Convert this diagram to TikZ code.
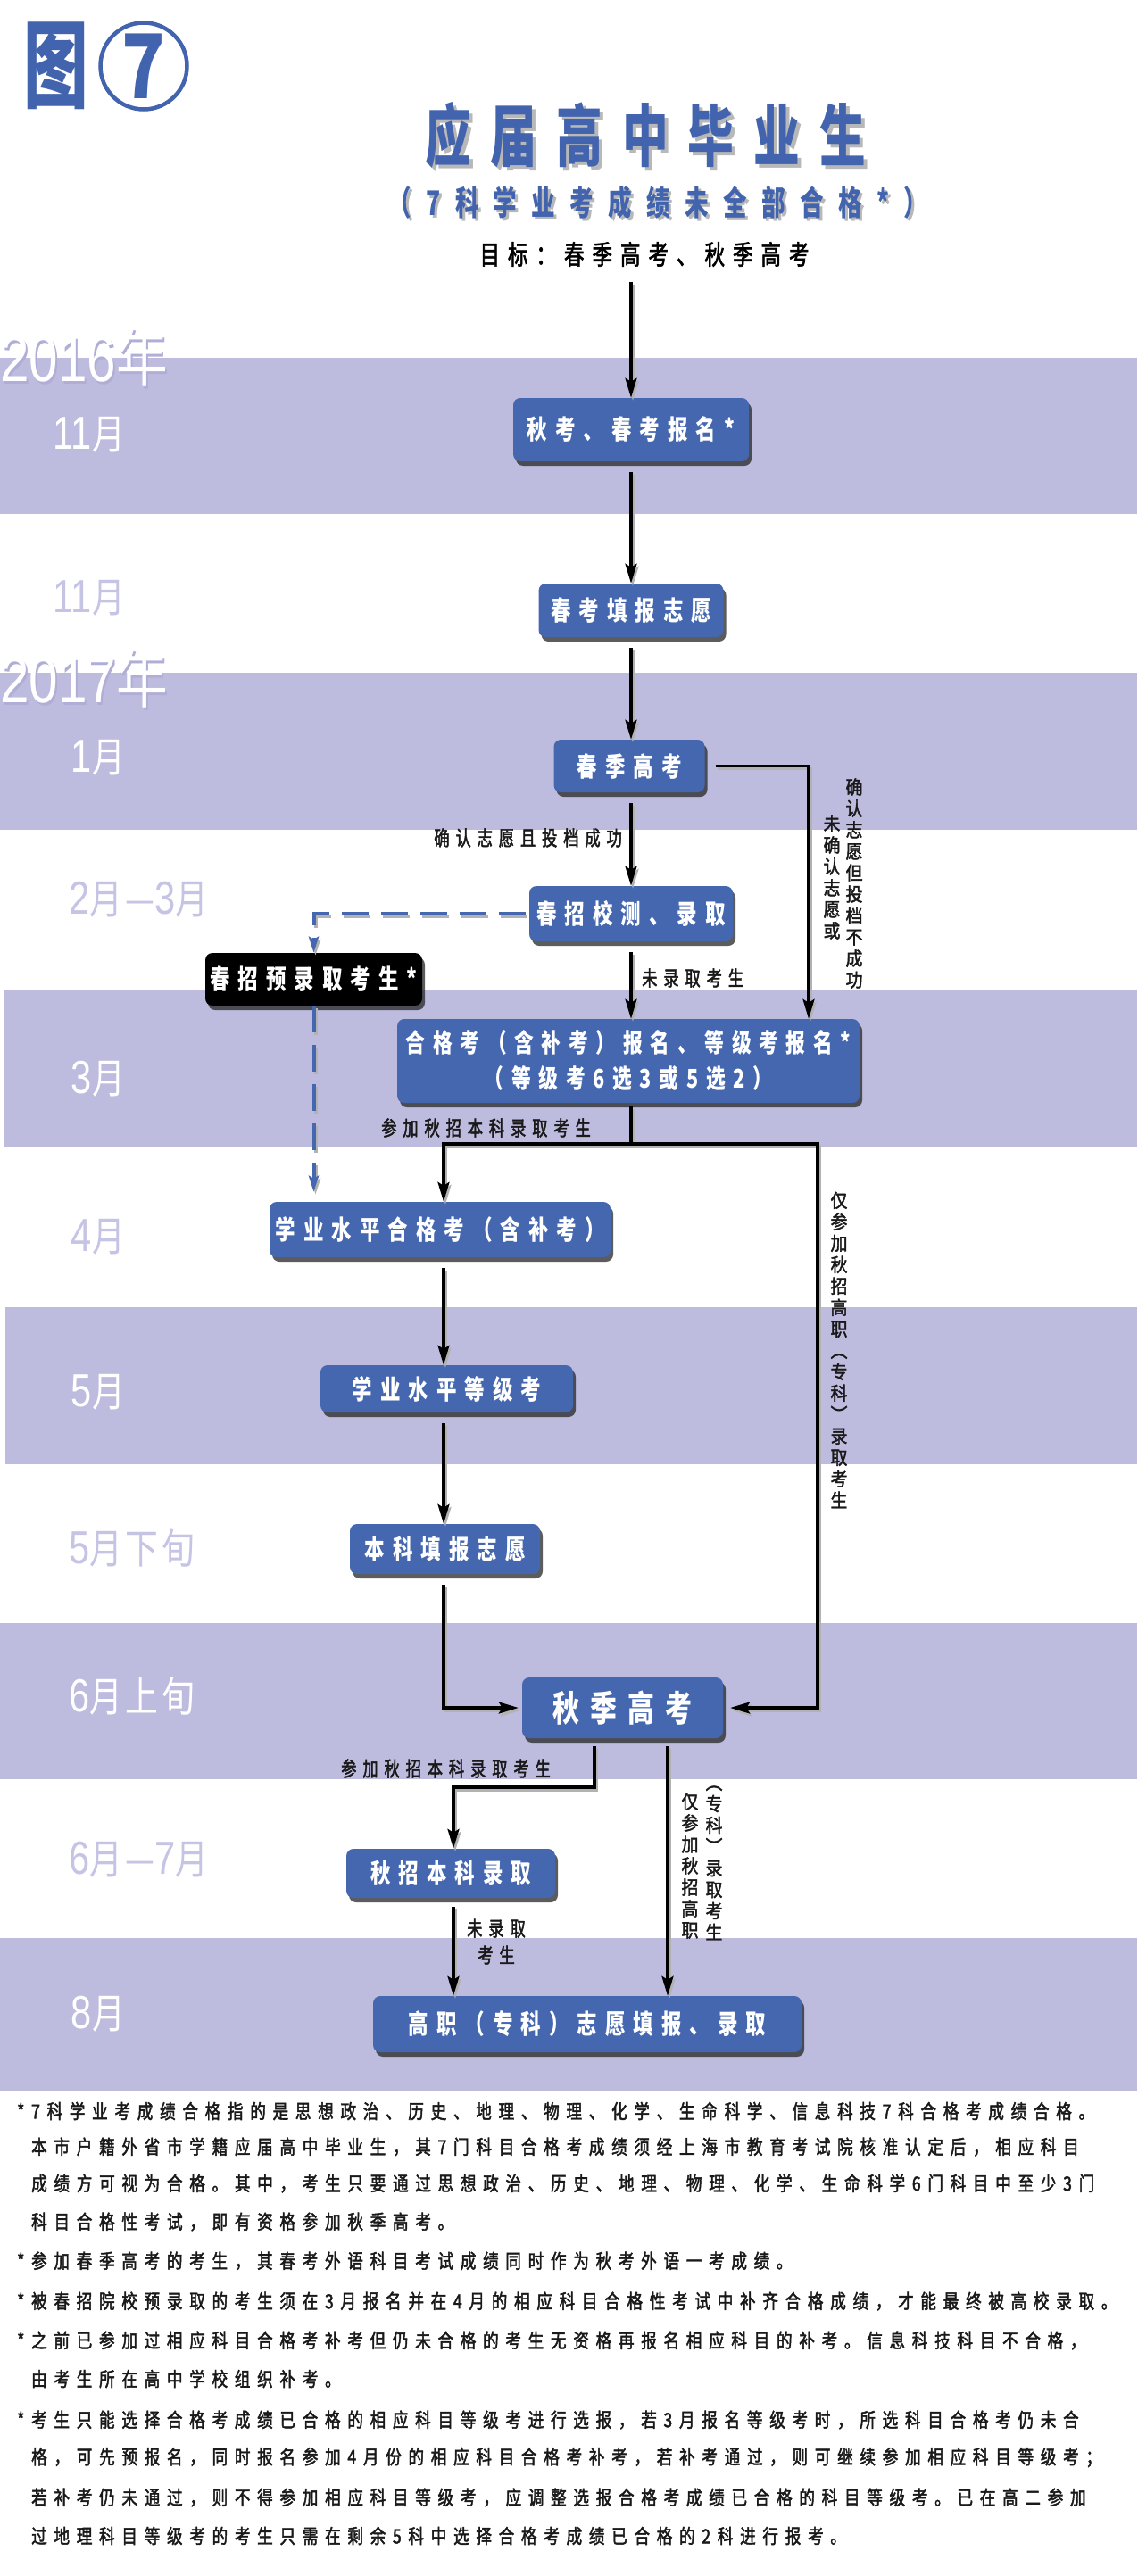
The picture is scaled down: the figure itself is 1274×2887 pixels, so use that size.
\documentclass[tikz,border=0pt]{standalone}
\usepackage{fontspec}
\usetikzlibrary{arrows.meta,shadows}
\newfontfamily\fbx[FakeStretch=0.75,LetterSpace=30]{Noto Sans CJK SC}
\newfontfamily\flb[FakeStretch=0.75,LetterSpace=30,FakeBold=2]{Noto Sans CJK SC}
\newfontfamily\fnt[FakeStretch=0.8,LetterSpace=35,FakeBold=2]{Noto Sans CJK SC}
\newfontfamily\fttl[FakeStretch=0.68,LetterSpace=29]{Noto Sans CJK SC}
\newfontfamily\fsub[FakeStretch=0.7,LetterSpace=43]{Noto Sans CJK SC}
\newfontfamily\fmon[FakeStretch=0.8,LetterSpace=8]{Noto Sans CJK SC}
\newfontfamily\fvert[FakeStretch=0.9,FakeBold=2]{Noto Sans CJK SC}
\newfontfamily\fdig[FakeStretch=0.8]{Liberation Sans}
\newcommand\dg[1]{{\fdig\fontsize{52}{52}\selectfont #1}}
\newcommand\yr[1]{{\fdig\fontsize{73}{73}\selectfont #1}}
\definecolor{band}{RGB}{189,187,222}
\definecolor{boxblue}{RGB}{68,103,176}
\definecolor{ttlblue}{RGB}{66,99,174}
\definecolor{lav}{RGB}{198,196,228}
\definecolor{lavdark}{RGB}{176,174,214}
\begin{document}
\begin{tikzpicture}[x=1pt,y=-1pt,
  box/.style={fill=boxblue, rounded corners=8pt, text=white, inner sep=0pt,
    font=\fbx\bfseries\fontsize{30}{30}\selectfont,
    drop shadow={shadow xshift=3pt,shadow yshift=-5pt,opacity=0.75,fill=black!85}},
  blackbox/.style={box, fill=black},
  conn/.style={line width=3.2pt, draw=black, -{Stealth[length=22pt,width=13pt,inset=4pt]},
    preaction={draw=black!30, line width=3.2pt, transform canvas={shift={(2pt,-3pt)}}}},
  plain/.style={line width=3.2pt, draw=black,
    preaction={draw=black!30, line width=3.2pt, transform canvas={shift={(2pt,-3pt)}}}},
  dconn/.style={line width=4pt, draw=boxblue, dash pattern=on 30pt off 14pt,
    -{Stealth[length=18pt,width=11pt,inset=3pt]},
    preaction={draw=black!30, line width=4pt, dash pattern=on 30pt off 14pt, transform canvas={shift={(2pt,-3pt)}}}},
  lbl/.style={inner sep=0pt, text=black!90, font=\flb\fontsize{23}{23}\selectfont},
  vlbl/.style={inner sep=0pt, text=black!90, align=center, font=\fvert\fontsize{21}{24}\selectfont},
  monw/.style={inner sep=0pt, text=white, font=\fmon\fontsize{46}{46}\selectfont},
  monl/.style={inner sep=0pt, text=lav, font=\fmon\fontsize{46}{46}\selectfont},
  note/.style={inner sep=0pt, anchor=west, text=black!90, font=\fnt\fontsize{22}{22}\selectfont}
]
\useasboundingbox (0,0) rectangle (1274,2887);
\fill[white] (0,0) rectangle (1274,2887);
% bands
\fill[band] (0,401) rectangle (1274,576);
\fill[band] (0,754) rectangle (1274,930);
\fill[band] (4,1109) rectangle (1274,1285);
\fill[band] (6,1465) rectangle (1274,1641);
\fill[band] (0,1819) rectangle (1274,1994);
\fill[band] (0,2172) rectangle (1274,2343);

% heading
\node[inner sep=0pt, anchor=west, text=ttlblue, font=\fttl\bfseries\fontsize{107}{107}\selectfont] (fig) at (26,74) {图};
\node[circle, draw=ttlblue, line width=4.5pt, minimum size=97pt, inner sep=0pt] (circ) at (161,74) {};
\node[inner sep=0pt, text=ttlblue, font=\fmon\bfseries\fontsize{100}{100}\selectfont] (seven) at (circ.center) {7};
\node[inner sep=0pt, text=black!28, font=\fttl\bfseries\fontsize{76}{76}\selectfont] at (727,155) {应届高中毕业生};
\node[inner sep=0pt, text=ttlblue, font=\fttl\bfseries\fontsize{76}{76}\selectfont] (title) at (723,151) {应届高中毕业生};
\node[inner sep=0pt, text=black!28, font=\fsub\bfseries\fontsize{38}{38}\selectfont] at (740,230) {（7科学业考成绩未全部合格*）};
\node[inner sep=0pt, text=ttlblue, font=\fsub\bfseries\fontsize{38}{38}\selectfont] (sub) at (737,227) {（7科学业考成绩未全部合格*）};
\node[inner sep=0pt, text=black, font=\flb\fontsize{30}{30}\selectfont] (goal) at (722,285) {目标：春季高考、秋季高考};

% month labels
\node[inner sep=0pt, anchor=west, text=lavdark, font=\fmon\fontsize{72}{72}\selectfont] at (2,403) {\yr{2016}年};
\node[inner sep=0pt, anchor=west, text=white, font=\fmon\fontsize{72}{72}\selectfont] (y16) at (0,400) {\yr{2016}年};
\node[inner sep=0pt, anchor=west, text=lavdark, font=\fmon\fontsize{72}{72}\selectfont] at (2,763) {\yr{2017}年};
\node[inner sep=0pt, anchor=west, text=white, font=\fmon\fontsize{72}{72}\selectfont] (y17) at (0,760) {\yr{2017}年};
\node[monw, anchor=east] (m1) at (140,487) {\dg{11}月};
\node[monl, anchor=east] (m2) at (140,670) {\dg{11}月};
\node[monw, anchor=east] (m3) at (140,849) {\dg{1}月};
\node[monl, anchor=west] (m4) at (77,1008) {\dg{2}月—\dg{3}月};
\node[monw, anchor=east] (m5) at (140,1209) {\dg{3}月};
\node[monl, anchor=east] (m6) at (140,1386) {\dg{4}月};
\node[monw, anchor=east] (m7) at (140,1560) {\dg{5}月};
\node[monl, anchor=west] (m8) at (77,1735) {\dg{5}月下旬};
\node[monw, anchor=west] (m9) at (77,1901) {\dg{6}月上旬};
\node[monl, anchor=west] (m10) at (77,2084) {\dg{6}月—\dg{7}月};
\node[monw, anchor=east] (m11) at (140,2257) {\dg{8}月};

% coordinates
\coordinate (c0) at (707,316);
\coordinate (cr1) at (906,0);
\coordinate (sp) at (707,1282);
\coordinate (cb) at (497,0);
\coordinate (cr2) at (916,0);
\coordinate (cl) at (666,0);
\coordinate (cm) at (748,0);
\coordinate (cq) at (508,0);
\coordinate (h2) at (0,2003);

% boxes
\node[box, minimum width=264pt, minimum height=71pt] (b1) at (707,481.5) {秋考、春考报名*};
\node[box, minimum width=207pt, minimum height=60pt] (b2) at (707,684) {春考填报志愿};
\node[box, minimum width=169pt, minimum height=59pt] (b3) at (705,858.5) {春季高考};
\node[box, minimum width=228pt, minimum height=62pt] (b4) at (707,1024) {春招校测、录取};
\node[blackbox, minimum width=243pt, minimum height=59pt] (bk) at (351.5,1097.5) {春招预录取考生*};
\node[box, minimum width=518pt, minimum height=94pt, align=center,
  font=\fbx\bfseries\fontsize{29}{40}\selectfont] (b5) at (704,1189) {合格考（含补考）报名、等级考报名*\\（等级考6选3或5选2）};
\node[box, minimum width=382pt, minimum height=62pt] (b6) at (493,1378) {学业水平合格考（含补考）};
\node[box, minimum width=283pt, minimum height=53pt] (b7) at (500.5,1556.5) {学业水平等级考};
\node[box, minimum width=213pt, minimum height=56pt] (b8) at (498.5,1736) {本科填报志愿};
\node[box, minimum width=225pt, minimum height=68pt, font=\fbx\bfseries\fontsize{40}{40}\selectfont] (b9) at (697.5,1914) {秋季高考};
\node[box, minimum width=234pt, minimum height=55pt] (b10) at (505,2099.5) {秋招本科录取};
\node[box, minimum width=480pt, minimum height=63pt] (b11) at (658,2268.5) {高职（专科）志愿填报、录取};

% connectors
\draw[conn] (c0) -- (c0 |- b1.north);
\draw[conn, shorten <=12pt] (c0 |- b1.south) -- (c0 |- b2.north);
\draw[conn, shorten <=12pt] (c0 |- b2.south) -- (c0 |- b3.north);
\draw[conn, shorten <=12pt] (c0 |- b3.south) -- (c0 |- b4.north);
\draw[conn, shorten <=12pt] (b3.east) -| (cr1 |- b5.north);
\draw[conn, shorten <=12pt] (c0 |- b4.south) -- (c0 |- b5.north);
\draw[dconn, shorten <=4pt] (b4.west) -| (bk.north);
\draw[dconn, shorten >=11pt] (bk.south) -- (bk.south |- b6.north);
\draw[plain, shorten <=4pt] (b5.south -| sp) -- (sp);
\draw[conn] (sp) -| (cb |- b6.north);
\draw[conn, shorten >=8pt] (sp) -| (cr2 |- b9.east) -- (b9.east);
\draw[conn, shorten <=12pt] (cb |- b6.south) -- (cb |- b7.north);
\draw[conn, shorten <=12pt] (cb |- b7.south) -- (cb |- b8.north);
\draw[conn, shorten <=12pt, shorten >=4pt] (cb |- b8.south) |- (b9.west);
\draw[conn, shorten <=9pt] (cl |- b9.south) -- (cl |- h2) -| (cq |- b10.north);
\draw[conn, shorten <=9pt] (cm |- b9.south) -- (cm |- b11.north);
\draw[conn, shorten <=10pt] (cq |- b10.south) -- (cq |- b11.north);

% connector labels
\node[lbl, anchor=east] (l1) at (697,939) {确认志愿且投档成功};
\node[vlbl] (l2) at (932,983) {未\\确\\认\\志\\愿\\或};
\node[vlbl] (l3) at (957,990) {确\\认\\志\\愿\\但\\投\\档\\不\\成\\功};
\node[lbl, anchor=west] (l4) at (719,1096) {未录取考生};
\node[lbl, anchor=west] (l5) at (427,1264) {参加秋招本科录取考生};
\node[vlbl] (l6) at (940,1513) {仅\\参\\加\\秋\\招\\高\\职\\︵\\专\\科\\︶\\录\\取\\考\\生};
\node[lbl, anchor=west] (l7) at (382,1982) {参加秋招本科录取考生};
\node[vlbl] (l8) at (773,2091) {仅\\参\\加\\秋\\招\\高\\职};
\node[vlbl] (l9) at (800,2088) {︵\\专\\科\\︶\\录\\取\\考\\生};
\node[lbl, align=center, font=\flb\fontsize{23}{30}\selectfont] (l10) at (556,2176) {未录取\\考生};

% notes
\node[note] at (19,2366) {*7科学业考成绩合格指的是思想政治、历史、地理、物理、化学、生命科学、信息科技7科合格考成绩合格。};
\node[note] at (35,2406) {本市户籍外省市学籍应届高中毕业生，其7门科目合格考成绩须经上海市教育考试院核准认定后，相应科目};
\node[note] at (35,2447) {成绩方可视为合格。其中，考生只要通过思想政治、历史、地理、物理、化学、生命科学6门科目中至少3门};
\node[note] at (35,2490) {科目合格性考试，即有资格参加秋季高考。};
\node[note] at (19,2534) {*参加春季高考的考生，其春考外语科目考试成绩同时作为秋考外语一考成绩。};
\node[note] at (19,2579) {*被春招院校预录取的考生须在3月报名并在4月的相应科目合格性考试中补齐合格成绩，才能最终被高校录取。};
\node[note] at (19,2623) {*之前已参加过相应科目合格考补考但仍未合格的考生无资格再报名相应科目的补考。信息科技科目不合格，};
\node[note] at (35,2666) {由考生所在高中学校组织补考。};
\node[note] at (19,2712) {*考生只能选择合格考成绩已合格的相应科目等级考进行选报，若3月报名等级考时，所选科目合格考仍未合};
\node[note] at (35,2754) {格，可先预报名，同时报名参加4月份的相应科目合格考补考，若补考通过，则可继续参加相应科目等级考；};
\node[note] at (35,2799) {若补考仍未通过，则不得参加相应科目等级考，应调整选报合格考成绩已合格的科目等级考。已在高二参加};
\node[note] at (35,2842) {过地理科目等级考的考生只需在剩余5科中选择合格考成绩已合格的2科进行报考。};
\end{tikzpicture}
\end{document}
